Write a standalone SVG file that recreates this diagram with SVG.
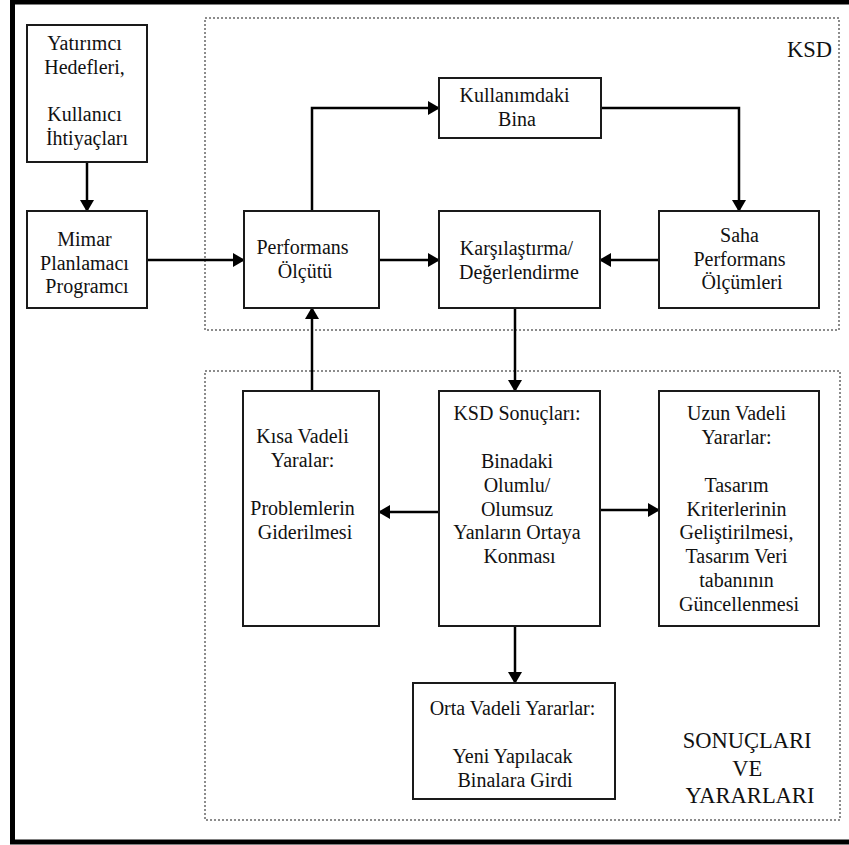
<svg xmlns="http://www.w3.org/2000/svg" width="849" height="845" viewBox="0 0 849 845">
  <style>
    .box { fill: #fff; stroke: #1a1a1a; stroke-width: 2; }
    .zone { fill: none; stroke: #8c8c8c; stroke-width: 2; stroke-dasharray: 2 2; }
    .lbl { font-size: 20px; text-anchor: middle; fill: #111; }
    .big { font-size: 22.5px; fill: #111; }
    .conn { fill: none; stroke: #000; stroke-width: 2.5; marker-end: url(#arrow); }
  </style>
  <defs>
    <marker id="arrow" viewBox="0 0 12 14" refX="11" refY="7" markerWidth="12" markerHeight="14" markerUnits="userSpaceOnUse" orient="auto">
      <path d="M0,0 L12,7 L0,14 Z" fill="#000"/>
    </marker>
  </defs>

  <rect width="849" height="845" fill="#fff"/>
  <!-- outer frame -->
  <rect x="12.5" y="2" width="870" height="840" fill="none" stroke="#000" stroke-width="5"/>

  <g font-family="Liberation Serif, Times New Roman, Tinos, Noto Serif, DejaVu Serif, FreeSerif, serif">
  <!-- zones -->
  <g id="zone-ksd">
    <rect class="zone" x="205" y="18" width="634" height="312"/>
    <text class="big" x="832" y="57" text-anchor="end">KSD</text>
  </g>
  <g id="zone-sonuclar">
    <rect class="zone" x="205" y="371" width="635" height="449"/>
    <text class="big" text-anchor="middle">
      <tspan x="750" y="748">SONUÇLARI</tspan>
      <tspan x="750" y="776">VE</tspan>
      <tspan x="750" y="803">YARARLARI</tspan>
    </text>
  </g>

  <!-- connectors -->
  <g id="connectors">
    <path class="conn" d="M87,162 V211"/>
    <path class="conn" d="M147,260 H244"/>
    <path class="conn" d="M312,211 V108 H439"/>
    <path class="conn" d="M601,108 H739 V211"/>
    <path class="conn" d="M379,260 H439"/>
    <path class="conn" d="M659,260 H600"/>
    <path class="conn" d="M515,308 V391"/>
    <path class="conn" d="M312,391 V308"/>
    <path class="conn" d="M439,512 H379"/>
    <path class="conn" d="M600,510 H659"/>
    <path class="conn" d="M515,626 V683"/>
  </g>

  <!-- nodes -->
  <g id="yatirimci">
    <rect class="box" x="27" y="25" width="120" height="137"/>
    <text class="lbl">
      <tspan x="87" y="50">Yatırımcı</tspan>
      <tspan x="87" y="74">Hedefleri,</tspan>
      <tspan x="87" y="121">Kullanıcı</tspan>
      <tspan x="87" y="145">İhtiyaçları</tspan>
    </text>
  </g>
  <g id="mimar">
    <rect class="box" x="27" y="211" width="120" height="97"/>
    <text class="lbl">
      <tspan x="87" y="246">Mimar</tspan>
      <tspan x="87" y="270">Planlamacı</tspan>
      <tspan x="87" y="293">Programcı</tspan>
    </text>
  </g>
  <g id="performans">
    <rect class="box" x="244" y="211" width="135" height="97"/>
    <text class="lbl">
      <tspan x="305" y="254">Performans</tspan>
      <tspan x="305" y="278">Ölçütü</tspan>
    </text>
  </g>
  <g id="kullanimdaki">
    <rect class="box" x="439" y="78" width="162" height="60"/>
    <text class="lbl">
      <tspan x="517" y="102">Kullanımdaki</tspan>
      <tspan x="517" y="126">Bina</tspan>
    </text>
  </g>
  <g id="karsilastirma">
    <rect class="box" x="439" y="211" width="161" height="97"/>
    <text class="lbl">
      <tspan x="519" y="255">Karşılaştırma/</tspan>
      <tspan x="519" y="279">Değerlendirme</tspan>
    </text>
  </g>
  <g id="saha">
    <rect class="box" x="659" y="211" width="160" height="97"/>
    <text class="lbl">
      <tspan x="742" y="242">Saha</tspan>
      <tspan x="742" y="266">Performans</tspan>
      <tspan x="742" y="289">Ölçümleri</tspan>
    </text>
  </g>
  <g id="kisa-vadeli">
    <rect class="box" x="243" y="391" width="136" height="235"/>
    <text class="lbl">
      <tspan x="305" y="443">Kısa Vadeli</tspan>
      <tspan x="305" y="467">Yaralar:</tspan>
      <tspan x="305" y="515">Problemlerin</tspan>
      <tspan x="305" y="539">Giderilmesi</tspan>
    </text>
  </g>
  <g id="ksd-sonuclari">
    <rect class="box" x="439" y="391" width="161" height="235"/>
    <text class="lbl">
      <tspan x="519.5" y="420">KSD Sonuçları:</tspan>
      <tspan x="519.5" y="468">Binadaki</tspan>
      <tspan x="519.5" y="492">Olumlu/</tspan>
      <tspan x="519.5" y="516">Olumsuz</tspan>
      <tspan x="519.5" y="539">Yanların Ortaya</tspan>
      <tspan x="519.5" y="563">Konması</tspan>
    </text>
  </g>
  <g id="uzun-vadeli">
    <rect class="box" x="659" y="391" width="160" height="235"/>
    <text class="lbl">
      <tspan x="739" y="420">Uzun Vadeli</tspan>
      <tspan x="739" y="444">Yararlar:</tspan>
      <tspan x="739" y="492">Tasarım</tspan>
      <tspan x="739" y="516">Kriterlerinin</tspan>
      <tspan x="739" y="539">Geliştirilmesi,</tspan>
      <tspan x="739" y="563">Tasarım Veri</tspan>
      <tspan x="739" y="587">tabanının</tspan>
      <tspan x="739" y="611">Güncellenmesi</tspan>
    </text>
  </g>
  <g id="orta-vadeli">
    <rect class="box" x="413" y="683" width="202" height="116"/>
    <text class="lbl">
      <tspan x="515" y="715">Orta Vadeli Yararlar:</tspan>
      <tspan x="515" y="763">Yeni Yapılacak</tspan>
      <tspan x="515" y="787">Binalara Girdi</tspan>
    </text>
  </g>
  </g>
</svg>
